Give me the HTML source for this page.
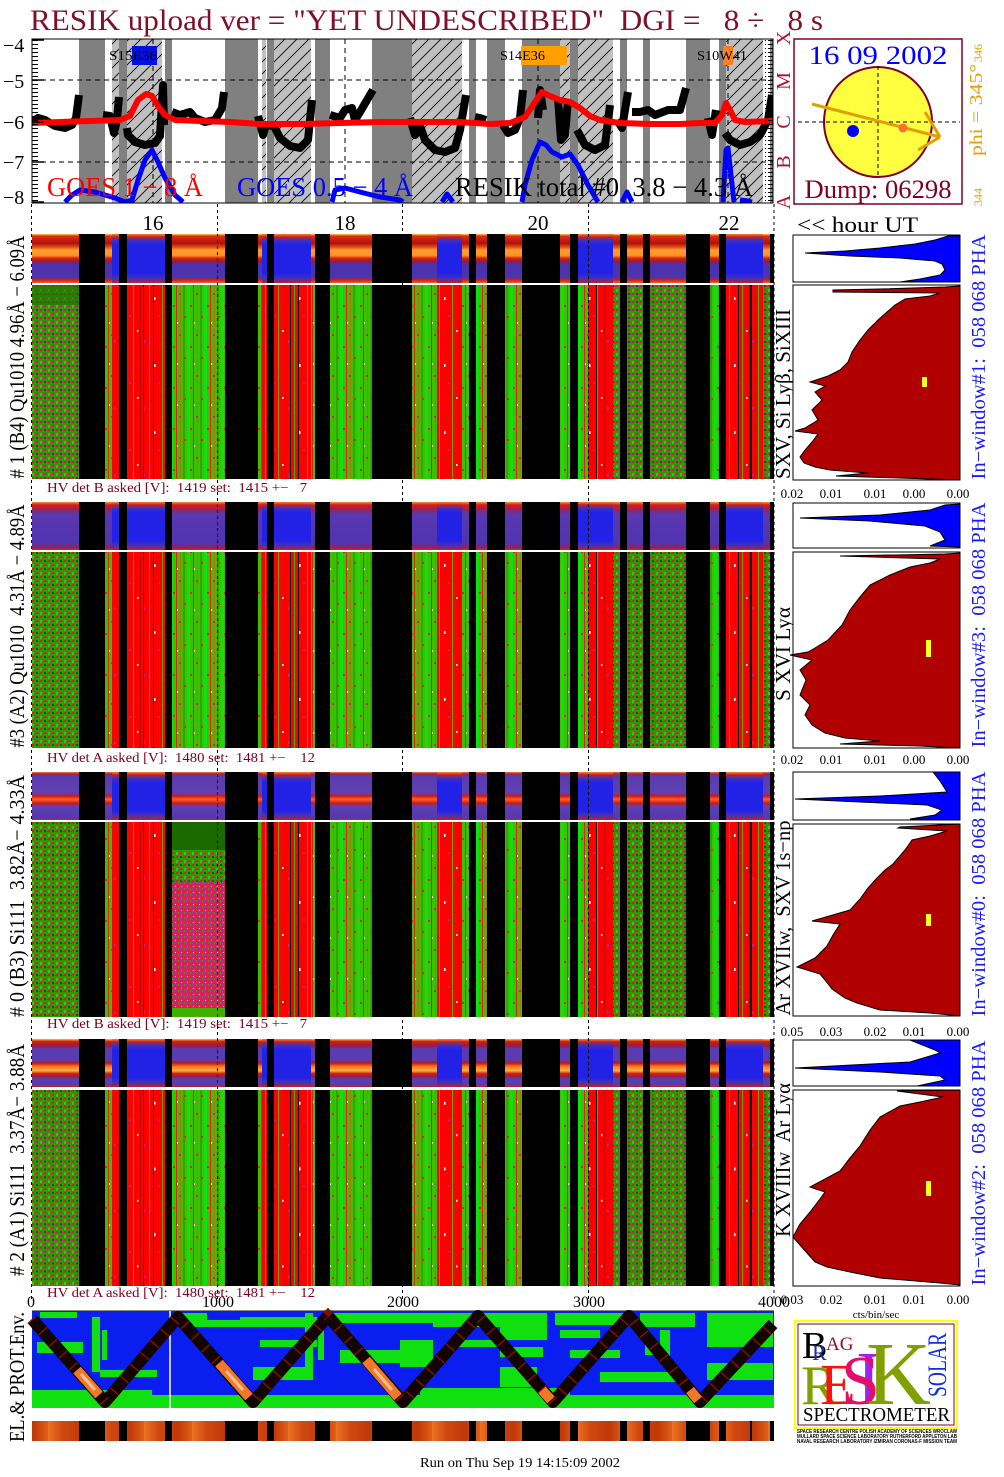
<!DOCTYPE html>
<html><head><meta charset="utf-8"><style>html,body{margin:0;padding:0;background:#fff;width:1004px;height:1477px;overflow:hidden}svg{display:block}text.p{white-space:pre}</style></head><body>
<svg width="1004" height="1477" viewBox="0 0 1004 1477" xmlns="http://www.w3.org/2000/svg" xmlns:xlink="http://www.w3.org/1999/xlink" font-family="'Liberation Serif', serif">
<defs>
<pattern id="hatch" width="12" height="12" patternUnits="userSpaceOnUse">
<rect width="12" height="12" fill="#c0c0c0"/>
<path d="M0,12 L12,0 M-1,1 L1,-1 M11,13 L13,11" stroke="#000" stroke-width="0.8"/>
</pattern>
<pattern id="pR" width="29" height="67" patternUnits="userSpaceOnUse">
<rect width="29" height="67" fill="#ff0000"/>
<rect x="4" width="1" height="67" fill="#50b000"/>
<rect x="17" width="1" height="67" fill="#70a000"/>
<rect x="24" width="1" height="67" fill="#d00000"/>
<rect x="9" y="12" width="1.5" height="3" fill="#fff"/>
<rect x="21" y="45" width="1.5" height="2" fill="#fff"/>
<rect x="13" y="30" width="2" height="2" fill="#c02080"/>
<rect x="27" y="55" width="2" height="3" fill="#c02080"/>
</pattern>
<pattern id="pG" width="17" height="41" patternUnits="userSpaceOnUse">
<rect width="17" height="41" fill="#3cc000"/>
<rect x="0" width="3" height="41" fill="#10e010"/>
<rect x="6" width="1" height="41" fill="#e02020"/>
<rect x="10" width="1" height="41" fill="#a08000"/>
<rect x="13" width="2" height="41" fill="#28a800"/>
<rect x="9" y="6" width="2" height="2" fill="#d0207a"/>
<rect x="3" y="18" width="2" height="2" fill="#e02040"/>
<rect x="14" y="29" width="2" height="2" fill="#e02040"/>
<rect x="7" y="35" width="1" height="2" fill="#fff"/>
</pattern>
<pattern id="pN" width="8" height="8" patternUnits="userSpaceOnUse">
<rect width="8" height="8" fill="#2a9a00"/>
<rect x="0" y="0" width="2" height="2" fill="#e01a1a"/>
<rect x="4" y="4" width="2" height="2" fill="#e01a1a"/>
<rect x="6" y="1" width="2" height="1" fill="#c020a0"/>
<rect x="2" y="5" width="1" height="2" fill="#c020a0"/>
<rect x="4" y="0" width="2" height="2" fill="#106000"/>
<rect x="0" y="4" width="2" height="3" fill="#30d000"/>
</pattern>
<pattern id="pM" width="6" height="6" patternUnits="userSpaceOnUse">
<rect width="6" height="6" fill="#d8205a"/>
<rect x="0" y="0" width="2" height="2" fill="#9030e0"/>
<rect x="3" y="3" width="2" height="2" fill="#ff1818"/>
<rect x="4" y="0" width="1" height="2" fill="#40a000"/>
<rect x="1" y="4" width="1" height="1" fill="#fff"/>
</pattern>
<pattern id="tk" width="8" height="4" patternUnits="userSpaceOnUse">
<rect x="0" y="0" width="6" height="1" fill="#000"/>
</pattern>
<linearGradient id="g1" x1="0" y1="0" x2="0" y2="1">
<stop offset="0" stop-color="#ffd050"/><stop offset="0.04" stop-color="#e03010"/><stop offset="0.19" stop-color="#b01010"/><stop offset="0.27" stop-color="#e85010"/><stop offset="0.33" stop-color="#ffa030"/><stop offset="0.44" stop-color="#ff9020"/><stop offset="0.5" stop-color="#d02010"/><stop offset="0.56" stop-color="#a01830"/><stop offset="0.6" stop-color="#5030a8"/><stop offset="0.88" stop-color="#4a34b0"/><stop offset="0.93" stop-color="#c02020"/><stop offset="1" stop-color="#f06020"/>
</linearGradient>
<linearGradient id="g2" x1="0" y1="0" x2="0" y2="1">
<stop offset="0" stop-color="#ff9030"/><stop offset="0.06" stop-color="#d02020"/><stop offset="0.15" stop-color="#a02050"/><stop offset="0.25" stop-color="#5a38b0"/><stop offset="0.85" stop-color="#5034b0"/><stop offset="0.95" stop-color="#902060"/><stop offset="1" stop-color="#c03020"/>
</linearGradient>
<linearGradient id="g3" x1="0" y1="0" x2="0" y2="1">
<stop offset="0" stop-color="#f08030"/><stop offset="0.04" stop-color="#a02050"/><stop offset="0.1" stop-color="#5a3cb0"/><stop offset="0.44" stop-color="#6040b0"/><stop offset="0.5" stop-color="#d01818"/><stop offset="0.57" stop-color="#ff6020"/><stop offset="0.65" stop-color="#d01818"/><stop offset="0.71" stop-color="#6040b0"/><stop offset="0.95" stop-color="#5538b0"/><stop offset="1" stop-color="#903060"/>
</linearGradient>
<linearGradient id="g4" x1="0" y1="0" x2="0" y2="1">
<stop offset="0" stop-color="#ffc040"/><stop offset="0.05" stop-color="#d02010"/><stop offset="0.14" stop-color="#a01840"/><stop offset="0.2" stop-color="#5a3cb0"/><stop offset="0.44" stop-color="#5a3cb0"/><stop offset="0.5" stop-color="#c01818"/><stop offset="0.58" stop-color="#ff8020"/><stop offset="0.66" stop-color="#ffb040"/><stop offset="0.72" stop-color="#d02010"/><stop offset="0.78" stop-color="#a01840"/><stop offset="0.82" stop-color="#5a3cb0"/><stop offset="0.94" stop-color="#5a3cb0"/><stop offset="1" stop-color="#c02020"/>
</linearGradient>
<linearGradient id="gB" x1="0" y1="0" x2="0" y2="1">
<stop offset="0" stop-color="#ff8030"/><stop offset="0.06" stop-color="#c02020"/><stop offset="0.13" stop-color="#4030c0"/><stop offset="0.22" stop-color="#2222e6"/><stop offset="0.8" stop-color="#2222e6"/><stop offset="0.9" stop-color="#4030c0"/><stop offset="1" stop-color="#c02020"/>
</linearGradient>
<linearGradient id="gOr" x1="0" y1="0" x2="1" y2="0">
<stop offset="0" stop-color="#ec7420"/><stop offset="0.3" stop-color="#d04810"/><stop offset="0.7" stop-color="#c03808"/><stop offset="1" stop-color="#e06018"/>
</linearGradient>
<pattern id="pO" width="48" height="30" patternUnits="userSpaceOnUse">
<rect width="48" height="30" fill="url(#gOr)"/>
</pattern>
<g id="K">
<rect x="79" y="0" width="26" height="200"/><rect x="119" y="0" width="8" height="200"/><rect x="165" y="0" width="7" height="200"/><rect x="225" y="0" width="33" height="200"/><rect x="267" y="0" width="7" height="200"/><rect x="315" y="0" width="15" height="200"/><rect x="372" y="0" width="40" height="200"/><rect x="469" y="0" width="7" height="200"/><rect x="487" y="0" width="18" height="200"/><rect x="522" y="0" width="38" height="200"/><rect x="570" y="0" width="8" height="200"/><rect x="620" y="0" width="7" height="200"/><rect x="643" y="0" width="7" height="200"/><rect x="686" y="0" width="24" height="200"/><rect x="719" y="0" width="7" height="200"/><rect x="750" y="0" width="2" height="200"/><rect x="770" y="0" width="4" height="200"/>
</g>
<g id="KL">
<rect x="143" y="0" width="1" height="200"/><rect x="153" y="0" width="1" height="200"/><rect x="290" y="0" width="1" height="200"/><rect x="298" y="0" width="1" height="200"/><rect x="596" y="0" width="1" height="200"/><rect x="738" y="0" width="1" height="200"/>
</g>
<g id="R">
<rect x="112" y="0" width="7" height="200"/><rect x="127" y="0" width="38" height="200"/><rect x="262" y="0" width="5" height="200"/><rect x="274" y="0" width="37" height="200"/><rect x="437" y="0" width="25" height="200"/><rect x="588" y="0" width="25" height="200"/><rect x="726" y="0" width="24" height="200"/><rect x="752" y="0" width="11" height="200"/>
</g>
<g id="N">
<rect x="32" y="0" width="47" height="200"/><rect x="613" y="0" width="7" height="200"/><rect x="627" y="0" width="16" height="200"/><rect x="650" y="0" width="36" height="200"/><rect x="763" y="0" width="7" height="200"/>
</g>
<g id="RS" fill="url(#gB)">
<rect x="112" y="0" width="7" height="1"/><rect x="127" y="0" width="38" height="1"/><rect x="262" y="0" width="5" height="1"/><rect x="274" y="0" width="37" height="1"/><rect x="437" y="0" width="25" height="1"/><rect x="578" y="0" width="35" height="1"/><rect x="726" y="0" width="37" height="1"/>
</g>
<clipPath id="cs1"><rect x="0" y="234" width="1004" height="49"/></clipPath>
<clipPath id="cs2"><rect x="0" y="502" width="1004" height="48"/></clipPath>
<clipPath id="cs3"><rect x="0" y="772" width="1004" height="48"/></clipPath>
<clipPath id="cs4"><rect x="0" y="1039" width="1004" height="48"/></clipPath>
<clipPath id="cb1"><rect x="0" y="285" width="1004" height="194"/></clipPath>
<clipPath id="cb2"><rect x="0" y="552" width="1004" height="196"/></clipPath>
<clipPath id="cb3"><rect x="0" y="822" width="1004" height="195"/></clipPath>
<clipPath id="cb4"><rect x="0" y="1090" width="1004" height="196"/></clipPath>
<clipPath id="ctop"><rect x="32" y="39" width="741" height="164"/></clipPath>
</defs>

<rect width="1004" height="1477" fill="#fff"/>

<!-- Title -->
<text class="p" xml:space="preserve" x="30" y="30" font-size="30" fill="#80102a" textLength="793" lengthAdjust="spacingAndGlyphs">RESIK upload ver = "YET UNDESCRIBED"  DGI =   8 ÷   8 s</text>

<!-- Top plot -->
<g clip-path="url(#ctop)">
<use xlink:href="#K" href="#K" fill="#808080" transform="translate(0,39) scale(1,0.82)"/>
<rect x="112" y="39" width="7" height="164" fill="url(#hatch)"/>
<rect x="127" y="39" width="35" height="164" fill="url(#hatch)"/>
<rect x="262" y="39" width="4" height="164" fill="url(#hatch)"/>
<rect x="274" y="39" width="37" height="164" fill="url(#hatch)"/>
<rect x="412" y="39" width="50" height="164" fill="url(#hatch)"/>
<rect x="560" y="39" width="10" height="164" fill="url(#hatch)"/>
<rect x="578" y="39" width="35" height="164" fill="url(#hatch)"/>
<rect x="726" y="39" width="37" height="164" fill="url(#hatch)"/>
<path d="M32,80 H773 M32,162 H773 M153,39 V203 M345,39 V203 M538,39 V203 M728,39 V203" stroke="#000" stroke-width="1" stroke-dasharray="5,4" fill="none"/>
<rect x="132" y="46" width="25" height="19" fill="#0010e0"/>
<rect x="521" y="46" width="46" height="19" fill="#ffa000"/>
<rect x="723" y="46" width="10" height="19" fill="#ff8020"/>
<g fill="none" stroke="#000" stroke-width="8" stroke-linejoin="round">
<polyline points="32,122 38,118 45,120 55,126 65,128 72,125 76,118 79,95"/>
<polyline points="103,115 110,116 114,133 117,120 119,97"/>
<polyline points="127,128 128,135 135,142 145,145 155,143 160,136 163,85 164,125"/>
<polyline points="172,112 180,115 190,112 195,118 205,122 215,120 222,108 224,92"/>
<polyline points="258,116 263,135 266,125 274,126 280,138 290,146 300,148 308,140 312,100"/>
<polyline points="330,115 340,118 345,110 352,108 355,120 360,112 370,95 373,90"/>
<polyline points="410,118 415,135 420,126 425,140 435,150 445,152 455,148 460,130 466,95"/>
<polyline points="475,117 480,118 486,120"/>
<polyline points="503,125 508,133 515,130 520,118 523,90"/>
<polyline points="538,118 540,90 543,110"/>
<polyline points="558,98 561,140 565,135 568,100"/>
<polyline points="577,130 585,145 595,150 605,145 610,105"/>
<polyline points="617,120 622,128 628,92"/>
<polyline points="632,112 640,112 648,110 655,115 668,110 680,110 686,88"/>
<polyline points="708,118 712,135 716,110"/>
<polyline points="725,133 730,140 740,145 750,142 760,135 768,120 772,95"/>
</g>
<polyline fill="none" stroke="#ff0000" stroke-width="6" stroke-linejoin="round" points="32,123 60,122 90,121 120,120 130,116 138,100 146,94 152,96 158,106 165,115 175,120 200,121 230,122 260,124 300,124 340,123 380,122 420,122 460,122 490,124 510,123 525,117 535,102 542,92 550,96 560,100 570,102 580,108 590,116 600,120 620,123 650,124 680,124 700,123 715,123 722,115 726,103 730,110 735,120 745,122 773,121"/>
<g fill="none" stroke="#0000ff" stroke-width="5" stroke-linejoin="round">
<polyline points="65,202 72,195 80,190 95,192 105,195 115,198 125,202 132,200 138,180 145,160 152,150 158,162 165,178 175,195 183,202"/>
<polyline points="332,202 335,190 345,188 360,192 380,197 400,200 403,202"/>
<polyline points="442,202 447,194 453,202"/>
<polyline points="522,202 525,185 532,160 540,142 546,145 552,152 562,157 570,154 578,165 588,185 598,202"/>
<polyline points="622,202 627,192 632,202"/>
<polyline points="723,202 726,150 728,148 731,175 734,202"/>
<polyline points="740,200 748,201 752,202"/>
</g>
<text x="109" y="60" font-size="14" fill="#000" textLength="48" lengthAdjust="spacingAndGlyphs">S15E36</text>
<text x="500" y="60" font-size="14" fill="#000" textLength="45" lengthAdjust="spacingAndGlyphs">S14E36</text>
<text x="697" y="60" font-size="14" fill="#000" textLength="50" lengthAdjust="spacingAndGlyphs">S10W41</text>
<text class="p" xml:space="preserve" x="47" y="196" font-size="27" fill="#ff0000" textLength="156" lengthAdjust="spacingAndGlyphs">GOES 1 − 8 Å</text>
<text class="p" xml:space="preserve" x="237" y="196" font-size="27" fill="#0000ff" textLength="176" lengthAdjust="spacingAndGlyphs">GOES 0.5 − 4 Å</text>
<text class="p" xml:space="preserve" x="455" y="196" font-size="27" fill="#000" textLength="298" lengthAdjust="spacingAndGlyphs">RESIK total #0  3.8 − 4.3 Å</text>
</g>
<rect x="32" y="39" width="8" height="164" fill="url(#tk)"/>
<rect x="765" y="39" width="8" height="164" fill="url(#tk)"/>
<path d="M32,40 H44 M32,80 H44 M32,122 H44 M32,162 H44 M32,202 H44" stroke="#000" stroke-width="1.5"/>
<rect x="32" y="39" width="741" height="164" fill="none" stroke="#000" stroke-width="1"/>
<g font-size="20" fill="#000">
<text x="3" y="52">−4</text><text x="3" y="88">−5</text><text x="3" y="129">−6</text><text x="3" y="169">−7</text><text x="3" y="204">−8</text>
</g>
<g font-size="20" fill="#b01030" text-anchor="middle">
<text transform="translate(790,38) rotate(-90)">X</text>
<text transform="translate(790,81) rotate(-90)">M</text>
<text transform="translate(790,122) rotate(-90)">C</text>
<text transform="translate(790,162) rotate(-90)">B</text>
<text transform="translate(790,202) rotate(-90)">A</text>
</g>

<!-- Sun box -->
<rect x="794" y="39" width="168" height="165" fill="#fff" stroke="#800020" stroke-width="1.5"/>
<text x="878" y="64" font-size="26" fill="#0000ff" text-anchor="middle" textLength="139" lengthAdjust="spacingAndGlyphs">16 09 2002</text>
<ellipse cx="878" cy="122" rx="54" ry="55" fill="#ffff40" stroke="#800020" stroke-width="2"/>
<path d="M878,66 V178 M798,122 H960" stroke="#000" stroke-width="1" stroke-dasharray="4,3"/>
<circle cx="853" cy="131" r="6" fill="#0000ff"/>
<path d="M812,104 L940,137 M940,137 L925,112 M940,137 L918,150" stroke="#e0a000" stroke-width="3" fill="none"/>
<circle cx="903" cy="128" r="4.5" fill="#ff7030"/>
<text x="878" y="198" font-size="26" fill="#800020" text-anchor="middle" textLength="147" lengthAdjust="spacingAndGlyphs">Dump: 06298</text>
<g fill="#e0a000" text-anchor="middle">
<text transform="translate(982,53) rotate(-90)" font-size="12">346</text>
<text transform="translate(982,110) rotate(-90)" font-size="18" textLength="92" lengthAdjust="spacingAndGlyphs">phi = 345°</text>
<text transform="translate(982,197) rotate(-90)" font-size="12">344</text>
</g>

<!-- Hour row -->
<g font-size="21" text-anchor="middle" fill="#000">
<text x="153" y="230">16</text><text x="345" y="230">18</text><text x="538" y="230">20</text><text x="729" y="230">22</text>
</g>
<text x="797" y="232" font-size="22" fill="#000" textLength="121" lengthAdjust="spacingAndGlyphs">&lt;&lt; hour UT</text>

<!-- Panel 1 -->
<rect x="32" y="234" width="742" height="49" fill="url(#g1)"/>
<g clip-path="url(#cs1)"><use xlink:href="#K" href="#K" fill="#000" transform="translate(0,234) scale(1,0.245)"/></g>
<use xlink:href="#RS" href="#RS" transform="translate(0,234) scale(1,49)"/>
<rect x="32" y="283" width="742" height="2" fill="#fff"/>
<rect x="32" y="285" width="742" height="194" fill="url(#pG)"/>
<g clip-path="url(#cb1)">
<use xlink:href="#N" href="#N" fill="url(#pN)" transform="translate(0,285)"/>
<use xlink:href="#R" href="#R" fill="url(#pR)" transform="translate(0,285)"/>
<use xlink:href="#KL" href="#KL" fill="#000" transform="translate(0,285)"/>
<use xlink:href="#K" href="#K" fill="#000" transform="translate(0,285)"/>
</g>
<rect x="32" y="285" width="47" height="20" fill="#1e7800" opacity="0.7"/>

<!-- Panel 2 -->
<rect x="32" y="502" width="742" height="48" fill="url(#g2)"/>
<g clip-path="url(#cs2)"><use xlink:href="#K" href="#K" fill="#000" transform="translate(0,502) scale(1,0.24)"/></g>
<use xlink:href="#RS" href="#RS" transform="translate(0,502) scale(1,48)"/>
<rect x="32" y="550" width="742" height="2" fill="#fff"/>
<rect x="32" y="552" width="742" height="196" fill="url(#pG)"/>
<g clip-path="url(#cb2)">
<use xlink:href="#N" href="#N" fill="url(#pN)" transform="translate(0,552)"/>
<use xlink:href="#R" href="#R" fill="url(#pR)" transform="translate(0,552)"/>
<use xlink:href="#KL" href="#KL" fill="#000" transform="translate(0,552)"/>
<use xlink:href="#K" href="#K" fill="#000" transform="translate(0,552)"/>
</g>

<!-- Panel 3 -->
<rect x="32" y="772" width="742" height="48" fill="url(#g3)"/>
<g clip-path="url(#cs3)"><use xlink:href="#K" href="#K" fill="#000" transform="translate(0,772) scale(1,0.24)"/></g>
<use xlink:href="#RS" href="#RS" transform="translate(0,772) scale(1,48)"/>
<rect x="32" y="820" width="742" height="2" fill="#fff"/>
<rect x="32" y="822" width="742" height="195" fill="url(#pG)"/>
<g clip-path="url(#cb3)">
<use xlink:href="#N" href="#N" fill="url(#pN)" transform="translate(0,822)"/>
<use xlink:href="#R" href="#R" fill="url(#pR)" transform="translate(0,822)"/>
<use xlink:href="#KL" href="#KL" fill="#000" transform="translate(0,822)"/>
<use xlink:href="#K" href="#K" fill="#000" transform="translate(0,822)"/>
</g>
<rect x="172" y="822" width="53" height="28" fill="#1a6a00"/>
<rect x="172" y="850" width="53" height="32" fill="url(#pN)"/>
<rect x="172" y="882" width="53" height="126" fill="url(#pM)"/>
<rect x="172" y="1008" width="53" height="9" fill="#40b000"/>

<!-- Panel 4 -->
<rect x="32" y="1039" width="742" height="48" fill="url(#g4)"/>
<g clip-path="url(#cs4)"><use xlink:href="#K" href="#K" fill="#000" transform="translate(0,1039) scale(1,0.24)"/></g>
<use xlink:href="#RS" href="#RS" transform="translate(0,1039) scale(1,48)"/>
<rect x="32" y="1087" width="742" height="3" fill="#fff"/>
<rect x="32" y="1090" width="742" height="196" fill="url(#pG)"/>
<g clip-path="url(#cb4)">
<use xlink:href="#N" href="#N" fill="url(#pN)" transform="translate(0,1090) scale(1,0.98)"/>
<use xlink:href="#R" href="#R" fill="url(#pR)" transform="translate(0,1090) scale(1,0.98)"/>
<use xlink:href="#KL" href="#KL" fill="#000" transform="translate(0,1090) scale(1,0.98)"/>
<use xlink:href="#K" href="#K" fill="#000" transform="translate(0,1090) scale(1,0.98)"/>
</g>

<!-- dashed verticals -->
<path d="M31.5,204 V1300 M217.5,204 V1300 M402.5,204 V1300 M588.5,204 V1300 M774,204 V1300" stroke="#000" stroke-width="1" stroke-dasharray="3,3" fill="none"/>

<!-- HV texts -->
<g font-size="13.5" fill="#800020">
<text class="p" xml:space="preserve" x="47" y="492" textLength="260" lengthAdjust="spacingAndGlyphs">HV det B asked [V]:  1419 set:  1415 +−   7</text>
<text class="p" xml:space="preserve" x="47" y="762" textLength="268" lengthAdjust="spacingAndGlyphs">HV det A asked [V]:  1480 set:  1481 +−    12</text>
<text class="p" xml:space="preserve" x="47" y="1028" textLength="260" lengthAdjust="spacingAndGlyphs">HV det B asked [V]:  1419 set:  1415 +−   7</text>
<text class="p" xml:space="preserve" x="47" y="1297" textLength="268" lengthAdjust="spacingAndGlyphs">HV det A asked [V]:  1480 set:  1481 +−    12</text>
</g>

<!-- Left labels -->
<g font-size="21" fill="#000" text-anchor="middle">
<text class="p" xml:space="preserve" transform="translate(24,357) rotate(-90)" textLength="243" lengthAdjust="spacingAndGlyphs"># 1 (B4) Qu1010 4.96Å − 6.09Å</text>
<text class="p" xml:space="preserve" transform="translate(24,626) rotate(-90)" textLength="243" lengthAdjust="spacingAndGlyphs">#3 (A2) Qu1010  4.31Å − 4.89Å</text>
<text class="p" xml:space="preserve" transform="translate(24,896) rotate(-90)" textLength="242" lengthAdjust="spacingAndGlyphs"># 0 (B3) Si111  3.82Å− 4.33Å</text>
<text class="p" xml:space="preserve" transform="translate(24,1160) rotate(-90)" textLength="232" lengthAdjust="spacingAndGlyphs"># 2 (A1) Si111  3.37Å− 3.88Å</text>
<text transform="translate(24,1377) rotate(-90)" textLength="130" lengthAdjust="spacingAndGlyphs">EL.&amp; PROT.Env.</text>
</g>

<!-- Right black labels -->
<g font-size="21" fill="#000" text-anchor="middle">
<text transform="translate(790,394) rotate(-90)" textLength="170" lengthAdjust="spacingAndGlyphs">SXV, Si Lyβ, SiXIII</text>
<text transform="translate(790,654) rotate(-90)" textLength="94" lengthAdjust="spacingAndGlyphs">S XVI Lyα</text>
<text class="p" xml:space="preserve" transform="translate(790,918) rotate(-90)" textLength="195" lengthAdjust="spacingAndGlyphs">Ar XVIIw,  SXV 1s−np</text>
<text class="p" xml:space="preserve" transform="translate(790,1160) rotate(-90)" textLength="154" lengthAdjust="spacingAndGlyphs">K XVIIIw  Ar Lyα</text>
</g>

<!-- Right blue labels -->
<g font-size="20" fill="#1a1aff" text-anchor="middle">
<text class="p" xml:space="preserve" transform="translate(985,357) rotate(-90)" textLength="245" lengthAdjust="spacingAndGlyphs">In−window#1:  058 068 PHA</text>
<text class="p" xml:space="preserve" transform="translate(985,625) rotate(-90)" textLength="245" lengthAdjust="spacingAndGlyphs">In−window#3:  058 068 PHA</text>
<text class="p" xml:space="preserve" transform="translate(985,894) rotate(-90)" textLength="245" lengthAdjust="spacingAndGlyphs">In−window#0:  058 068 PHA</text>
<text class="p" xml:space="preserve" transform="translate(985,1163) rotate(-90)" textLength="245" lengthAdjust="spacingAndGlyphs">In−window#2:  058 068 PHA</text>
</g>

<!-- Histograms -->
<g stroke="#000" stroke-width="1">
<rect x="793" y="235" width="167" height="47" fill="#fff"/>
<polygon fill="#0000ff" points="960,236 948,236 935,240 915,244 880,248 845,251 805,253 850,256 900,258 935,261 942,264 945,270 940,275 920,279 900,282 960,282"/>
<rect x="793" y="285" width="167" height="195" fill="#fff"/>
<polygon fill="#b00000" points="960,286 945,287 880,289 833,290 833,292 940,293 930,296 905,299 895,305 887,312 878,320 868,330 860,340 852,352 848,362 840,370 828,376 810,382 825,386 815,392 822,400 812,410 818,420 805,428 795,431 818,434 812,442 805,450 800,457 804,463 815,467 830,470 868,473 836,476 900,478 960,480"/>

<rect x="793" y="503" width="167" height="45" fill="#fff"/>
<polygon fill="#0000ff" points="960,504 945,505 930,510 880,515 800,518 870,521 925,526 940,532 945,540 930,546 960,547"/>
<rect x="793" y="552" width="167" height="196" fill="#fff"/>
<polygon fill="#b00000" points="960,553 945,554 840,556 940,559 930,563 910,567 890,575 870,585 860,597 850,610 842,625 828,640 815,648 808,652 790,655 812,660 800,670 806,680 800,695 810,705 805,715 812,725 825,733 845,738 880,741 840,744 920,746 960,748"/>

<rect x="793" y="772" width="167" height="48" fill="#fff"/>
<polygon fill="#0000ff" points="960,772 933,772 940,781 947,792 880,796 795,799 860,802 927,805 942,810 935,815 910,819 960,820"/>
<rect x="793" y="824" width="167" height="192" fill="#fff"/>
<polygon fill="#b00000" points="960,824 900,827 898,828 947,831 930,836 912,840 905,850 893,864 885,870 877,878 868,888 860,899 850,910 812,921 840,924 833,935 827,946 815,958 797,967 820,974 825,980 832,989 845,998 857,1003 880,1010 930,1013 960,1016"/>

<rect x="793" y="1040" width="167" height="46" fill="#fff"/>
<polygon fill="#0000ff" points="960,1040 910,1040 935,1050 940,1053 910,1062 795,1068 880,1072 940,1076 945,1080 917,1086 960,1086"/>
<rect x="793" y="1090" width="167" height="196" fill="#fff"/>
<polygon fill="#b00000" points="960,1090 897,1091 943,1097 920,1102 900,1106 880,1117 870,1130 860,1146 850,1158 840,1171 810,1187 825,1192 820,1199 810,1212 800,1224 793,1237 807,1253 815,1262 827,1267 850,1272 880,1278 940,1283 960,1285"/>
</g>
<g fill="#ffff20">
<rect x="922" y="377" width="5" height="10"/>
<rect x="926" y="640" width="5" height="17"/>
<rect x="926" y="914" width="5" height="12"/>
<rect x="926" y="1181" width="5" height="15"/>
</g>
<g font-size="13" fill="#000" text-anchor="middle">
<text x="792" y="498">0.02</text><text x="831" y="498">0.01</text><text x="875" y="498">0.01</text><text x="914" y="498">0.00</text><text x="958" y="498">0.00</text>
<text x="792" y="764">0.02</text><text x="831" y="764">0.01</text><text x="875" y="764">0.01</text><text x="914" y="764">0.00</text><text x="958" y="764">0.00</text>
<text x="792" y="1036">0.05</text><text x="831" y="1036">0.03</text><text x="875" y="1036">0.02</text><text x="914" y="1036">0.01</text><text x="958" y="1036">0.00</text>
<text x="792" y="1304">0.03</text><text x="831" y="1304">0.02</text><text x="875" y="1304">0.01</text><text x="914" y="1304">0.01</text><text x="958" y="1304">0.00</text>
</g>
<text x="876" y="1318" font-size="11" fill="#000" text-anchor="middle">cts/bin/sec</text>

<!-- bottom axis -->
<g font-size="16" fill="#000" text-anchor="middle">
<text x="31" y="1307">0</text><text x="218" y="1307">1000</text><text x="403" y="1307">2000</text><text x="589" y="1307">3000</text><text x="774" y="1307">4000</text>
</g>

<!-- EL & PROT env -->
<rect x="32" y="1311" width="742" height="97" fill="#0a1ef0"/>
<line x1="32" y1="1310.5" x2="774" y2="1310.5" stroke="#888" stroke-width="1"/>
<g fill="#10e010">
<rect x="40" y="1312" width="37" height="6"/><rect x="37" y="1342" width="46" height="11"/><rect x="100" y="1370" width="57" height="7"/>
<rect x="92" y="1317" width="8" height="55"/><rect x="102" y="1330" width="5" height="30"/>
<rect x="177" y="1313" width="30" height="10"/><rect x="187" y="1320" width="53" height="7"/><rect x="240" y="1317" width="77" height="10"/><rect x="260" y="1340" width="57" height="7"/><rect x="253" y="1367" width="60" height="13"/>
<rect x="305" y="1313" width="8" height="58"/><rect x="318" y="1330" width="6" height="30"/>
<rect x="333" y="1313" width="100" height="10"/><rect x="400" y="1340" width="33" height="27"/><rect x="340" y="1350" width="60" height="13"/>
<rect x="433" y="1313" width="67" height="14"/><rect x="450" y="1340" width="50" height="7"/><rect x="500" y="1313" width="47" height="27"/><rect x="500" y="1347" width="43" height="10"/><rect x="500" y="1367" width="37" height="20"/>
<rect x="555" y="1313" width="70" height="12"/><rect x="560" y="1330" width="40" height="8"/><rect x="570" y="1350" width="50" height="8"/>
<rect x="640" y="1313" width="55" height="14"/><rect x="660" y="1330" width="10" height="30"/><rect x="645" y="1340" width="12" height="15"/>
<rect x="707" y="1313" width="66" height="34"/><rect x="707" y="1363" width="66" height="17"/>
<rect x="32" y="1395" width="742" height="13"/><rect x="32" y="1390" width="120" height="5"/><rect x="420" y="1388" width="150" height="7"/><rect x="600" y="1372" width="80" height="10"/>
</g>
<line x1="170" y1="1311" x2="170" y2="1408" stroke="#fff" stroke-width="1.5"/>
<polyline fill="none" stroke="#140400" stroke-width="12" stroke-linejoin="round" points="32,1319 105,1402 178,1317 253,1402 328,1316 403,1402 478,1316 553,1402 629,1316 700,1402 773,1324"/>
<polyline fill="none" stroke="#7a1400" stroke-width="11" stroke-dasharray="1.5,14" points="32,1319 105,1402 178,1317 253,1402 328,1316 403,1402 478,1316 553,1402 629,1316 700,1402 773,1324"/>
<g stroke="#f07828" stroke-width="10" stroke-linecap="butt">
<line x1="77" y1="1370" x2="99" y2="1395"/>
<line x1="219" y1="1363" x2="249" y2="1397"/>
<line x1="366" y1="1360" x2="398" y2="1397"/>
<line x1="542" y1="1390" x2="551" y2="1400"/>
<line x1="690" y1="1390" x2="698" y2="1400"/>
</g>
<g stroke="#ffc090" stroke-width="3">
<line x1="81" y1="1374" x2="95" y2="1390"/>
<line x1="226" y1="1371" x2="243" y2="1390"/>
<line x1="374" y1="1369" x2="392" y2="1390"/>
</g>

<!-- color bar -->
<rect x="32" y="1421" width="742" height="20" fill="url(#pO)"/>
<use xlink:href="#K" href="#K" fill="#000" transform="translate(0,1421) scale(1,0.1)"/>

<!-- Logo -->
<rect x="795" y="1321" width="162" height="107" fill="#fff" stroke="#ffff00" stroke-width="2"/>
<rect x="798" y="1324" width="156" height="101" fill="#fff" stroke="#800020" stroke-width="1"/>
<text x="802" y="1358" font-size="38" fill="#000">B</text>
<text x="812" y="1360" font-size="22" fill="#2030a0">R</text>
<text x="826" y="1350" font-size="19" fill="#901030">AG</text>
<text x="801" y="1404" font-size="56" fill="#7fa000">R</text>
<text x="820" y="1404" font-size="58" fill="#ff1010">E</text>
<text x="856" y="1404" font-size="76" fill="#a020f0">I</text>
<text x="841" y="1404" font-size="70" fill="#e0106a">S</text>
<text x="866" y="1404" font-size="90" fill="#7fa000">K</text>
<text transform="translate(946,1365) rotate(-90)" font-size="26" fill="#1030e0" text-anchor="middle" textLength="64" lengthAdjust="spacingAndGlyphs">SOLAR</text>
<text x="803" y="1421" font-size="20" fill="#000" textLength="147" lengthAdjust="spacingAndGlyphs">SPECTROMETER</text>
<g font-size="5" font-weight="bold" fill="#000" font-family="'Liberation Sans', sans-serif">
<text x="797" y="1433" textLength="160" lengthAdjust="spacingAndGlyphs">SPACE RESEARCH CENTRE POLISH ACADEMY OF SCIENCES WROCLAW</text>
<text x="797" y="1438" textLength="160" lengthAdjust="spacingAndGlyphs">MULLARD SPACE SCIENCE LABORATORY RUTHERFORD APPLETON LAB</text>
<text x="797" y="1443" textLength="160" lengthAdjust="spacingAndGlyphs">NAVAL RESEARCH LABORATORY IZMIRAN CORONAS-F MISSION TEAM</text>
</g>

<text x="420" y="1467" font-size="14" fill="#000" textLength="200" lengthAdjust="spacingAndGlyphs">Run on Thu Sep 19 14:15:09 2002</text>
</svg>
</body></html>
